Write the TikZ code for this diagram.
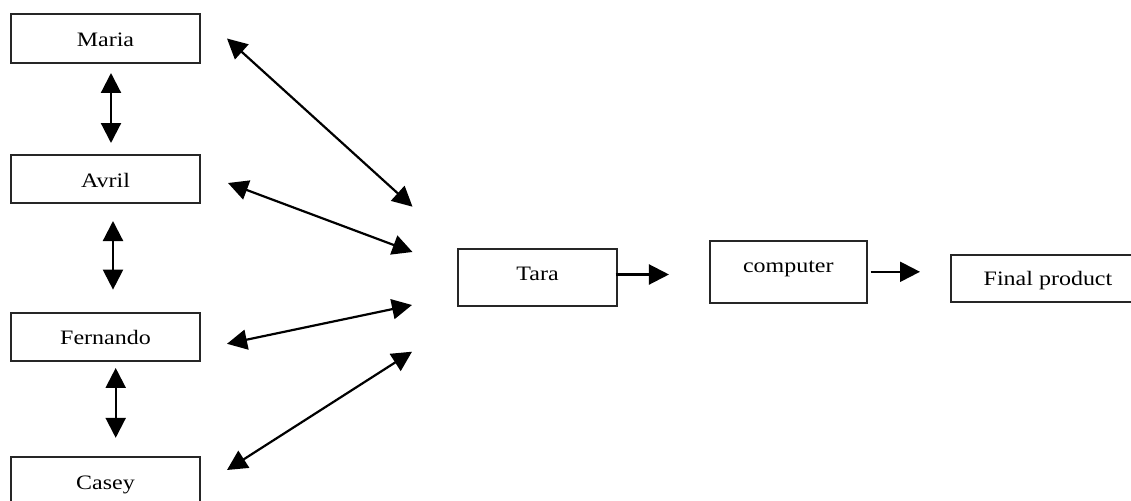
\documentclass[tikz,border=0pt]{standalone}
\usepackage{fontspec}
\setmainfont{Liberation Serif}[FakeStretch=1.17]
\usetikzlibrary{arrows.meta}
\begin{document}
\begin{tikzpicture}[x=1pt,y=-1pt,
  box/.style={draw=black!85, line width=2pt, rectangle, inner sep=0pt,
    font=\fontsize{20.5}{24}\selectfont, text depth=4pt, text height=20pt},
  dbl/.style={{Triangle[length=20pt,width=20pt]}-{Triangle[length=20pt,width=20pt]}, line width=2.2pt},
  one/.style={-{Triangle[length=20pt,width=20pt]}, line width=2.2pt}]
\useasboundingbox (0,0) rectangle (1131,500);
\clip (0,0) rectangle (1131,500);
% boxes
\node[box, minimum width=189pt, minimum height=49pt] (maria) at (105.5,38.5) {Maria};
\node[box, minimum width=189pt, minimum height=48pt] (avril) at (105.5,179) {Avril};
\node[box, minimum width=189pt, minimum height=48.3pt] (fern) at (105.5,336.8) {Fernando};
\node[box, minimum width=189pt, minimum height=48.3pt] (casey) at (105.5,481) {Casey};
\node[box, minimum width=158.4pt, minimum height=57pt, text height=10.4pt] (tara) at (537.5,277.5) {Tara};
\node[box, minimum width=156.7pt, minimum height=61.7pt, text height=6pt] (comp) at (788.3,271.8) {computer};
\node[box, minimum width=194pt, minimum height=47pt, text height=18.4pt] (final) at (1048,278.5) {Final product};
% free ends of the converging arrows
\coordinate (tM) at (412.5,206.7);
\coordinate (tA) at (412.5,252);
\coordinate (tF) at (412,305);
\coordinate (tC) at (412,351.7);
% vertical arrows
\draw[dbl, shorten <=9pt, shorten >=11pt] ([xshift=5.5pt]maria.south) -- ([xshift=5.5pt]avril.north);
\draw[dbl, shorten <=17pt, shorten >=22pt] ([xshift=7.5pt]avril.south) -- ([xshift=7.5pt]fern.north);
\draw[dbl, shorten <=6pt, shorten >=18pt] ([xshift=10.2pt]fern.south) -- ([xshift=10.2pt]casey.north);
% diagonal arrows
\draw[dbl] ([xshift=26pt]maria.east) -- (tM);
\draw[dbl] ([xshift=27pt,yshift=-4pt]avril.east) -- (tA);
\draw[dbl] ([xshift=26pt,yshift=-7pt]fern.east) -- (tF);
\draw[dbl] ([xshift=26pt,yshift=11pt]casey.east) -- (tC);
% horizontal arrows
\draw[one, shorten <=-2pt, shorten >=40pt] ([yshift=3pt]tara.east) -- ([yshift=3pt]tara.east -| comp.west);
\draw[one, shorten <=3pt, shorten >=30pt] (comp.east) -- (comp.east -| final.west);
\end{tikzpicture}
\end{document}
